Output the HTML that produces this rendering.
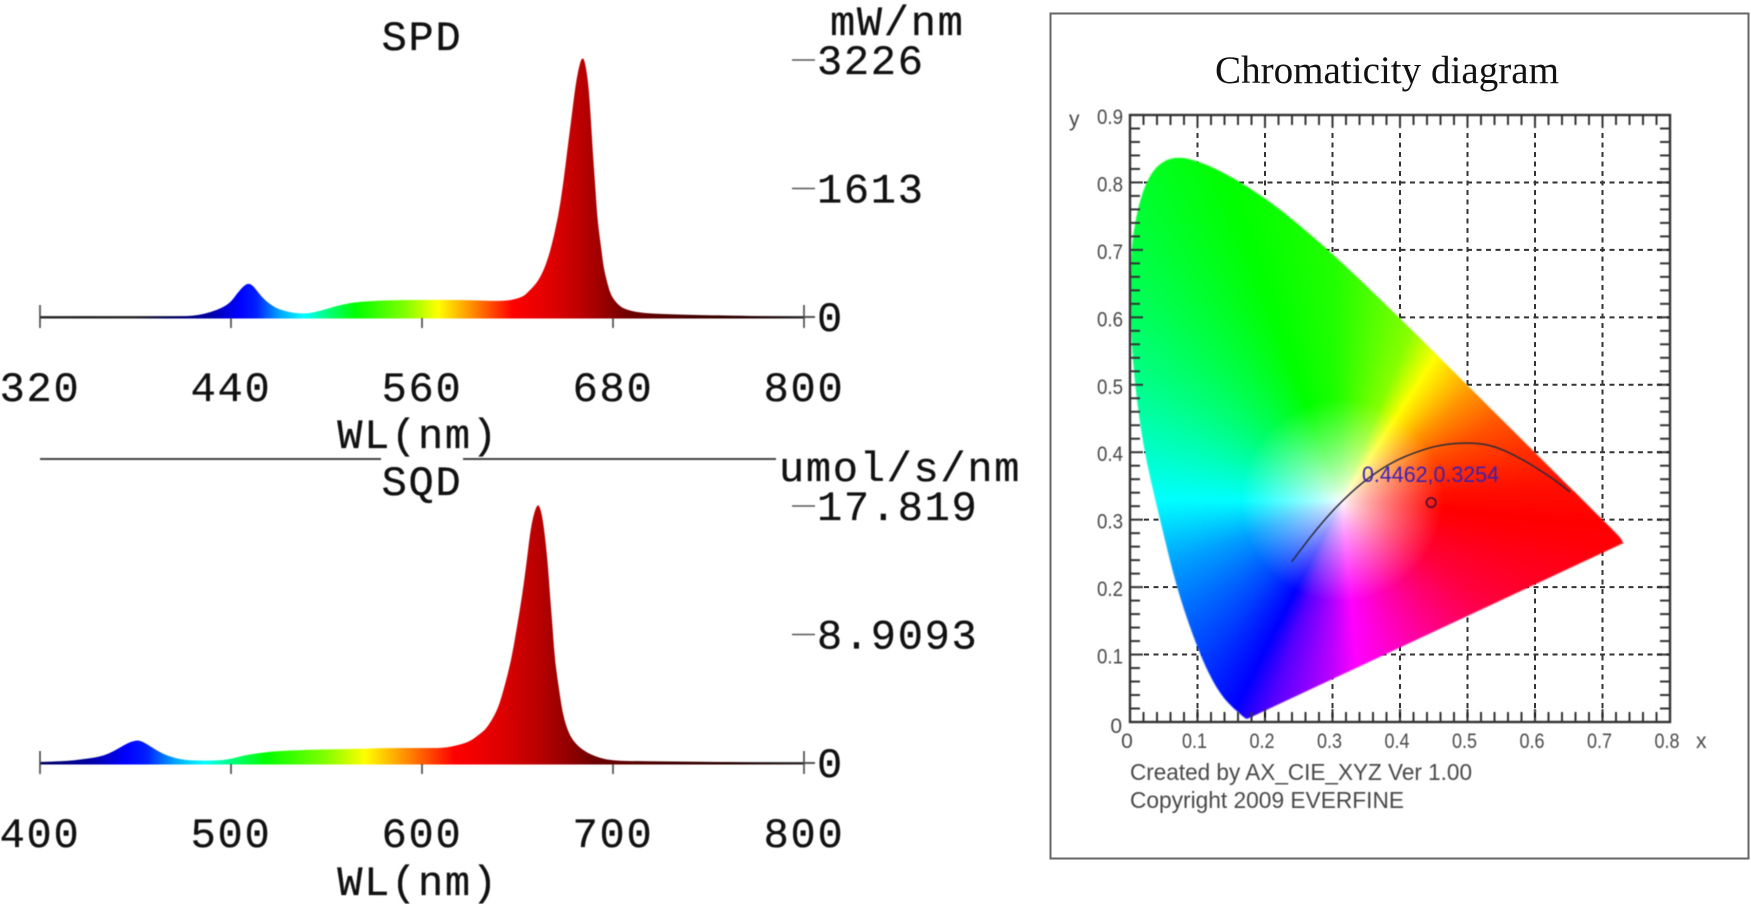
<!DOCTYPE html>
<html lang="en">
<head>
<meta charset="utf-8">
<title>SPD, SQD and chromaticity diagram</title>
<style>
  html, body { margin: 0; padding: 0; background: #fff; }
  #page { position: relative; width: 1751px; height: 904px; overflow: hidden; background: #fff; }
  svg, canvas { position: absolute; display: block; }
  .mono { font-family: "Liberation Mono", monospace; font-size: 42px; letter-spacing: 1.7px; fill: #111; stroke: #111; stroke-width: .3px; }
  .cie { font-family: "Liberation Sans", sans-serif; font-size: 21px; fill: #484848; }
  .cie-note { font-family: "Liberation Sans", sans-serif; font-size: 23px; fill: #484848; }
</style>
</head>
<body>
<div id="page">
  <svg id="spectra" width="1040" height="904" viewBox="0 0 1040 904" style="left:0;top:0;filter:blur(.5px)">
    <defs>
      <linearGradient id="spd-gradient" gradientUnits="userSpaceOnUse" x1="0" x2="0" y1="0" y2="0"></linearGradient>
      <linearGradient id="sqd-gradient" gradientUnits="userSpaceOnUse" x1="0" x2="0" y1="0" y2="0"></linearGradient>
    </defs>
    <text class="mono" x="422" y="50" text-anchor="middle">SPD</text>
    <text class="mono" x="830" y="35">mW/nm</text>
    <text class="mono" x="418" y="448" text-anchor="middle">WL(nm)</text>
    <line x1="40" y1="459" x2="381" y2="459" stroke="#444" stroke-width="2"/>
    <line x1="463" y1="459" x2="776" y2="459" stroke="#444" stroke-width="2"/>
    <text class="mono" x="422" y="495" text-anchor="middle">SQD</text>
    <text class="mono" x="779" y="481">umol/s/nm</text>
    <text class="mono" x="418" y="895" text-anchor="middle">WL(nm)</text>
    <g id="spd-chart"></g>
    <g id="sqd-chart"></g>
  </svg>

  <svg width="1751" height="904" viewBox="0 0 1751 904" style="left:0;top:0">
    <rect x="1050.5" y="13.5" width="698" height="845" fill="#fff" stroke="#666" stroke-width="2"/>
    <text x="1387" y="83" text-anchor="middle" font-family="'Liberation Serif', serif" font-size="39" textLength="344" lengthAdjust="spacingAndGlyphs" fill="#111">Chromaticity diagram</text>
    <g id="cie-grid"></g>
  </svg>

  <canvas id="gamut" width="540" height="607" style="left:1130px;top:115px;filter:blur(.5px)"></canvas>

  <svg width="1751" height="904" viewBox="0 0 1751 904" style="left:0;top:0;filter:blur(.4px)">
    <g id="cie-axes"></g>
    <g id="cie-marks"></g>
    <text class="cie" x="1069" y="126">y</text>
    <text class="cie" x="1696" y="748">x</text>
    <text class="cie-note" x="1130" y="780" textLength="342" lengthAdjust="spacingAndGlyphs">Created by AX_CIE_XYZ Ver 1.00</text>
    <text class="cie-note" x="1130" y="808" textLength="274" lengthAdjust="spacingAndGlyphs">Copyright 2009 EVERFINE</text>
  </svg>
</div>

<script>
// ---- SPD data (mW/nm) ----
const spdWavelengths = [320,340,360,380,400,410,420,427,435,440,444,448,451,454,457,460,463,466,470,475,480,485,490,497,504,511,518,528,539,555,574,590,608,616,623.5,627,632,635,637.3,640.8,645.6,648.8,651.3,654,656.6,659.3,661,662.4,664.5,666,667.2,668.7,670.1,671.5,672.9,674,676.4,679,684.4,690,699,710,731,762,780,800];
const spdValues = [3,6,6,4,5,8,25,60,120,190,300,390,425,390,310,240,185,140,100,68,50,44,50,82,125,160,185,200,210,214,215,212,200,210,255,320,423,530,631,841,1259,1682,2096,2514,2935,3200,3260,3200,2935,2514,2096,1682,1259,1020,820,631,423,255,129,80,50,38,25,15,8,0];
const spdXTicks = ["320","440","560","680","800"];
const spdYTicks = ["3226","1613","0"];

// ---- SQD data (umol/s/nm) ----
const sqdWavelengths = [400,407,414,422,431,436,441,446,449,451,453,456,459,462,466,469,473,478,486,495,501,507,515,524,541,568,582,600,611,618,625,630,633.9,639.1,642,646.6,649.6,652.5,654.8,656.9,659,660.9,662.5,663.9,665.8,667,668.4,669.6,672.2,673.5,675.8,679.2,685.3,693.2,700,707,730,757,777,800];
const sqdValues = [.07,.1,.14,.25,.42,.65,1.0,1.39,1.52,1.57,1.52,1.3,1.05,.81,.55,.42,.28,.18,.16,.18,.32,.53,.7,.83,.92,.99,1.04,1.04,1.04,1.2,1.48,1.98,2.4,3.56,4.71,7.02,9.34,11.65,13.96,16.27,17.5,18.0,17.4,16.27,13.96,11.65,9.34,7.02,4.71,3.56,2.4,1.48,.78,.33,.18,.14,.1,.07,.02,0];
const sqdXTicks = ["400","500","600","700","800"];
const sqdYTicks = ["17.819","8.9093","0"];

// ---- Colour bar of the spectra ----
const stopWavelengths = [380,400,410,427,445,456,470,486,500,518,549,570,591,617,643,661,675,689,731,762,800];
const stopColors = ["#222222","#000060","#00007a","#0000a8","#0000ff","#0020ff","#00a0ff","#00ffff","#00ff80","#00ff00","#80ff00","#ffff00","#ff9000","#ff0000","#dc0000","#b80000","#960000","#700000","#420000","#2a0000","#222222"];

// ---- Spectral locus, wavelength order ----
const locusX = [.1741,.1740,.1738,.1736,.1733,.1730,.1726,.1721,.1714,.1703,.1689,.1669,.1644,.1611,.1566,.1510,.1440,.1355,.1241,.1096,.0913,.0687,.0454,.018,.003,-.002,.007,.03,.064,.107,.1547,.1929,.2296,.2658,.3016,.3373,.3731,.4087,.4441,.4788,.5125,.5448,.5752,.6029,.6270,.6482,.6658,.6801,.6915,.7006,.7079,.7190,.7260,.7280,.7310];
const locusY = [.0050,.0050,.0049,.0049,.0048,.0048,.0048,.0048,.0051,.0058,.0069,.0086,.0109,.0138,.0177,.0227,.0297,.0399,.0578,.0868,.1327,.2007,.2950,.4127,.5384,.6548,.7502,.8180,.8400,.8300,.8059,.7816,.7543,.7243,.6923,.6589,.6245,.5896,.5547,.5202,.4866,.4544,.4242,.3965,.3725,.3514,.3340,.3197,.3083,.2993,.2920,.2809,.2740,.2700,.2653];

// ---- Blackbody curve and measured point ----
const blackbodyX = [.2395,.26,.2815,.311,.345,.385,.43,.47,.518,.548,.58,.6,.625,.652];
const blackbodyY = [.2376,.265,.292,.325,.356,.384,.403,.413,.414,.406,.39,.378,.362,.341];
const measuredX = [.4462];
const measuredY = [.3254];
const cieXTicks = ["0","0.1","0.2","0.3","0.4","0.5","0.6","0.7","0.8"];
const cieYTicks = ["0","0.1","0.2","0.3","0.4","0.5","0.6","0.7","0.8","0.9"];

const NS = "http://www.w3.org/2000/svg";
function svgEl(parent, tag, attrs, text) {
  const e = document.createElementNS(NS, tag);
  for (const k in attrs) e.setAttribute(k, attrs[k]);
  if (text !== undefined) e.textContent = text;
  parent.appendChild(e);
  return e;
}

// Spectrum charts
function drawSpectrum(prefix, wls, vals, xTicks, yTicks, baseY, topY, labelBaseline) {
  const g = document.getElementById(prefix + "-chart");
  const xMin = parseFloat(xTicks[0]), xMax = parseFloat(xTicks[xTicks.length - 1]);
  const yMax = parseFloat(yTicks[0]);
  const xScale = w => 40 + (w - xMin) / (xMax - xMin) * 764;
  const yScale = v => baseY - v / yMax * (baseY - topY);

  const grad = document.getElementById(prefix + "-gradient");
  grad.setAttribute("x1", xScale(380));
  grad.setAttribute("x2", xScale(800));
  stopWavelengths.forEach((w, i) => {
    svgEl(grad, "stop", { offset: (w - 380) / 420, "stop-color": stopColors[i] });
  });

  const baseline = svgEl(g, "line", { x1: 40, x2: 815, y1: baseY, y2: baseY, stroke: "#444", "stroke-width": 2 });
  
  

  const pts = wls.map((w, i) => [xScale(w), yScale(vals[i])]);
  let d = "M" + pts[0][0] + " " + (baseY + 1.5) + "L" + pts[0][0].toFixed(2) + " " + pts[0][1].toFixed(2);
  for (let i = 1; i < pts.length - 1; i++) {
    d += "Q" + pts[i][0].toFixed(2) + " " + pts[i][1].toFixed(2) + " " + ((pts[i][0] + pts[i + 1][0]) / 2).toFixed(2) + " " + ((pts[i][1] + pts[i + 1][1]) / 2).toFixed(2);
  }
  const last = pts[pts.length - 1];
  d += "L" + last[0].toFixed(2) + " " + last[1].toFixed(2) + "L" + last[0] + " " + (baseY + 1.5) + "Z";
  const area = svgEl(g, "path", { d: d, fill: "url(#" + prefix + "-gradient)" });
  
  

  xTicks.forEach((t, i) => {
    const x = xScale(parseFloat(t));
    const full = i === 0 || i === xTicks.length - 1;
    const tick = svgEl(g, "line", { x1: x, x2: x, y1: baseY + (full ? -12 : 1), y2: baseY + 11, stroke: "#444", "stroke-width": 1.6 });
    
    
    const label = svgEl(g, "text", { class: "mono", x: x, y: labelBaseline, "text-anchor": "middle" }, t);
    
    
  });

  yTicks.forEach(t => {
    const y = yScale(parseFloat(t));
    const tick = svgEl(g, "line", { x1: parseFloat(t) === 0 ? 804 : 792, x2: 815, y1: y, y2: y, stroke: "#555", "stroke-width": 1.6 });
    
    
    const label = svgEl(g, "text", { class: "mono", x: 817, y: y + 14 }, t);
    
    
  });
}
drawSpectrum("spd", spdWavelengths, spdValues, spdXTicks, spdYTicks, 317, 60, 401);
drawSpectrum("sqd", sqdWavelengths, sqdValues, sqdXTicks, sqdYTicks, 763, 506, 847);

// Chromaticity axes
const cieLeft = 1130, cieRight = 1670, cieTop = 115, cieBottom = 722;
const cx = v => cieLeft + v / 0.8 * (cieRight - cieLeft);
const cy = v => cieBottom - v / 0.9 * (cieBottom - cieTop);

const grid = document.getElementById("cie-grid");
cieXTicks.slice(1, -1).forEach(t => {
  const x = cx(parseFloat(t));
  const gl = svgEl(grid, "line", { x1: x, x2: x, y1: cieTop + 18, y2: cieBottom, stroke: "#333", "stroke-width": 2, "stroke-dasharray": "5 4.5" });
  
  
});
cieYTicks.slice(1, -1).forEach(t => {
  const y = cy(parseFloat(t));
  const gl = svgEl(grid, "line", { x1: cieLeft + 14, x2: cieRight, y1: y, y2: y, stroke: "#333", "stroke-width": 2, "stroke-dasharray": "5 4.5" });
  
  
});

// Gamut fill: hue from the angle around the white point, saturation from the distance to it
(function () {
  const angleStops = [-10,5,26,40,57,68,92,110,147,180,200,228,243,251,267,275,307,325,350,365];
  const hueStops = [358,364,379,395,420,448,472,480,510,540,562,585,600,620,645,660,690,705,718,724];
  const whiteX = 0.3127, whiteY = 0.329;
  const cv = document.getElementById("gamut");
  const ctx = cv.getContext("2d");
  const W = cv.width + 8, H = cv.height;
  const img = ctx.createImageData(cv.width, H);
  function hueAt(a) {
    let i = 0;
    while (i < angleStops.length - 2 && a > angleStops[i + 1]) i++;
    const t = (a - angleStops[i]) / (angleStops[i + 1] - angleStops[i]);
    return (hueStops[i] + t * (hueStops[i + 1] - hueStops[i])) % 360;
  }
  function channel(h, s, n) {
    const k = (n + h / 60) % 6;
    return 255 * (1 - s * Math.max(0, Math.min(k, 4 - k, 1)));
  }
  for (let py = 0; py < H; py++) {
    for (let px = 0; px < cv.width; px++) {
      const dx = px / (cv.width / 0.8) - whiteX, dy = (H - py) / (H / 0.9) - whiteY;
      let a = Math.atan2(dy, dx) * 180 / Math.PI;
      if (a < -10) a += 360;
      const s = Math.pow(Math.min(1, Math.hypot(dx, dy) / 0.15), 0.8);
      const h = hueAt(a);
      const i = (py * cv.width + px) * 4;
      img.data[i] = channel(h, s, 5);
      img.data[i + 1] = channel(h, s, 3);
      img.data[i + 2] = channel(h, s, 1);
      img.data[i + 3] = 255;
    }
  }
  ctx.putImageData(img, 0, 0);
  ctx.globalCompositeOperation = "destination-in";
  ctx.beginPath();
  const pts = locusX.map((v, i) => [cx(v) - cieLeft, cy(locusY[i]) - cieTop]);
  ctx.moveTo(pts[0][0], pts[0][1]);
  for (let i = 1; i < pts.length - 1; i++) {
    ctx.quadraticCurveTo(pts[i][0], pts[i][1], (pts[i][0] + pts[i + 1][0]) / 2, (pts[i][1] + pts[i + 1][1]) / 2);
  }
  ctx.lineTo(pts[pts.length - 1][0], pts[pts.length - 1][1]);
  ctx.closePath();
  ctx.fill();
})();

// Axis frame, ticks, tick labels
const axes = document.getElementById("cie-axes");
const plotFrame = svgEl(axes, "rect", { x: cieLeft, y: cieTop, width: cieRight - cieLeft, height: cieBottom - cieTop, fill: "none", stroke: "#333", "stroke-width": 2.4 });



for (let i = 0; i <= 40; i++) {
  const x = cx(i * 0.02);
  const len = i % 5 === 0 ? 13 : 10;
  const top = svgEl(axes, "line", { x1: x, x2: x, y1: cieTop, y2: cieTop + len, stroke: "#333", "stroke-width": 2 });
  
  
  const bottom = svgEl(axes, "line", { x1: x, x2: x, y1: cieBottom, y2: cieBottom - len, stroke: "#333", "stroke-width": 2 });
  
  
}
for (let i = 0; i <= 45; i++) {
  const y = cy(i * 0.02);
  const len = i % 5 === 0 ? 13 : 10;
  const left = svgEl(axes, "line", { x1: cieLeft, x2: cieLeft + len, y1: y, y2: y, stroke: "#333", "stroke-width": 2 });
  
  
  const right = svgEl(axes, "line", { x1: cieRight, x2: cieRight - len, y1: y, y2: y, stroke: "#333", "stroke-width": 2 });
  
  
}
cieXTicks.forEach(t => {
  const label = svgEl(axes, "text", { class: "cie", x: cx(parseFloat(t)) - 3, y: 748, "text-anchor": "middle" }, t);
  if (t.length > 1) label.setAttribute("textLength", "25");
  if (t.length > 1) label.setAttribute("lengthAdjust", "spacingAndGlyphs");
  
  
});
cieYTicks.forEach(t => {
  const v = parseFloat(t);
  const label = svgEl(axes, "text", { class: "cie", x: v === 0 ? 1122 : 1123, y: v === 0 ? 733 : cy(v) + 9, "text-anchor": "end" }, t);
  if (t.length > 1) label.setAttribute("textLength", "26");
  if (t.length > 1) label.setAttribute("lengthAdjust", "spacingAndGlyphs");
  
  
});

// Curve and measured point
const marks = document.getElementById("cie-marks");
const bbPts = blackbodyX.map((v, i) => [cx(v), cy(blackbodyY[i])]);
let bbPath = "M" + bbPts[0][0].toFixed(1) + " " + bbPts[0][1].toFixed(1);
for (let i = 1; i < bbPts.length - 1; i++) {
  bbPath += "Q" + bbPts[i][0].toFixed(1) + " " + bbPts[i][1].toFixed(1) + " " + ((bbPts[i][0] + bbPts[i + 1][0]) / 2).toFixed(1) + " " + ((bbPts[i][1] + bbPts[i + 1][1]) / 2).toFixed(1);
}
bbPath += "L" + bbPts[bbPts.length - 1][0].toFixed(1) + " " + bbPts[bbPts.length - 1][1].toFixed(1);
const curve = svgEl(marks, "path", { d: bbPath, fill: "none", stroke: "#2b2b3a", "stroke-width": 1.5 });



const marker = svgEl(marks, "circle", { cx: cx(measuredX[0]), cy: cy(measuredY[0]), r: 4.7, fill: "none", stroke: "#4a1030", "stroke-width": 1.7 });



const annotation = svgEl(marks, "text", {
  x: 1362, y: 482,
  "font-family": "'Liberation Sans', sans-serif", "font-size": 22, fill: "#3a22b0",
  textLength: 137, lengthAdjust: "spacingAndGlyphs"
}, measuredX[0].toFixed(4) + "," + measuredY[0].toFixed(4));


</script>
</body>
</html>
